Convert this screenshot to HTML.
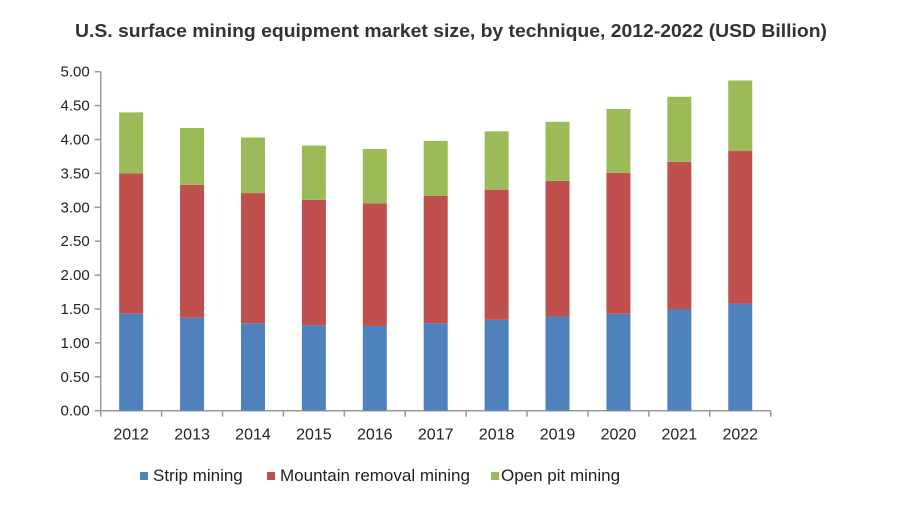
<!DOCTYPE html>
<html><head><meta charset="utf-8"><style>
body{margin:0;background:#fff;width:900px;height:507px;overflow:hidden;font-family:"Liberation Sans",Arial,sans-serif}
</style></head><body>
<svg id="chart" width="900" height="507">
<text x="451" y="37" text-anchor="middle" font-size="18" font-weight="bold" fill="#333" textLength="752" lengthAdjust="spacingAndGlyphs">U.S. surface mining equipment market size, by technique, 2012-2022 (USD Billion)</text>
<g id="axes"></g><g id="bars"></g>
<g>
<g><rect x="140" y="472" width="8" height="8" fill="#4f81bd"/><text x="153" y="481" font-size="17" fill="#222">Strip mining</text></g>
<g><rect x="267" y="472" width="8" height="8" fill="#c0504d"/><text x="280" y="481" font-size="17" fill="#222">Mountain removal mining</text></g>
<g><rect x="491" y="472" width="8" height="8" fill="#9bbb59"/><text x="501" y="481" font-size="17" fill="#222">Open pit mining</text></g>
</g>
</svg>
<script>
const categories=["2012","2013","2014","2015","2016","2017","2018","2019","2020","2021","2022"];
const strip=[1.43,1.37,1.29,1.26,1.25,1.29,1.34,1.39,1.43,1.50,1.58];
const mountain=[2.07,1.96,1.92,1.85,1.81,1.88,1.92,2.00,2.08,2.17,2.25];
const openPit=[0.90,0.84,0.82,0.80,0.80,0.81,0.86,0.87,0.94,0.96,1.04];
const yTicks=["0.00","0.50","1.00","1.50","2.00","2.50","3.00","3.50","4.00","4.50","5.00"];
const NS="http://www.w3.org/2000/svg";
const x0=100.7,x1=770.7,y0=410.7,yTop=71.7,yMax=5;
const band=(x1-x0)/categories.length;
const xC=i=>x0+band*(i+0.5);
const yS=v=>y0-(v/yMax)*(y0-yTop);
function mk(tag,attrs,parent){const e=document.createElementNS(NS,tag);for(const k in attrs)e.setAttribute(k,attrs[k]);parent.appendChild(e);return e;}
const ax=document.getElementById('axes'),bars=document.getElementById('bars');
let yl=mk('line',{x1:x0,y1:yTop,x2:x0,y2:y0,stroke:'#999','stroke-width':1.5},ax);


let xl=mk('line',{x1:x0,y1:y0,x2:x1,y2:y0,stroke:'#999','stroke-width':1.5},ax);


yTicks.forEach(t=>{const y=yS(parseFloat(t));
 mk('line',{x1:x0-6,y1:y,x2:x0,y2:y,stroke:'#999','stroke-width':1.5},ax);
 const tx=mk('text',{x:x0-11,y:y+5,'text-anchor':'end','font-size':15,fill:'#222'},ax);tx.textContent=t;
 
 
});
for(let i=0;i<=categories.length;i++){const x=x0+band*i;mk('line',{x1:x,y1:y0,x2:x,y2:y0+6,stroke:'#999','stroke-width':1.5},ax);}
const series=[[strip,'#4f81bd','strip'],[mountain,'#c0504d','mountain'],[openPit,'#9bbb59','open-pit']];
const bw=24;
categories.forEach((c,i)=>{let base=0;
 series.forEach(([arr,col,nm])=>{const v=arr[i];const r=mk('rect',{x:xC(i)-bw/2,y:yS(base+v),width:bw,height:yS(base)-yS(base+v),fill:col},bars);
  
  
  base+=v;});
 const t=mk('text',{x:xC(i),y:y0+29,'text-anchor':'middle','font-size':16,fill:'#222'},ax);t.textContent=c;
 
 
});
</script>
</body></html>
